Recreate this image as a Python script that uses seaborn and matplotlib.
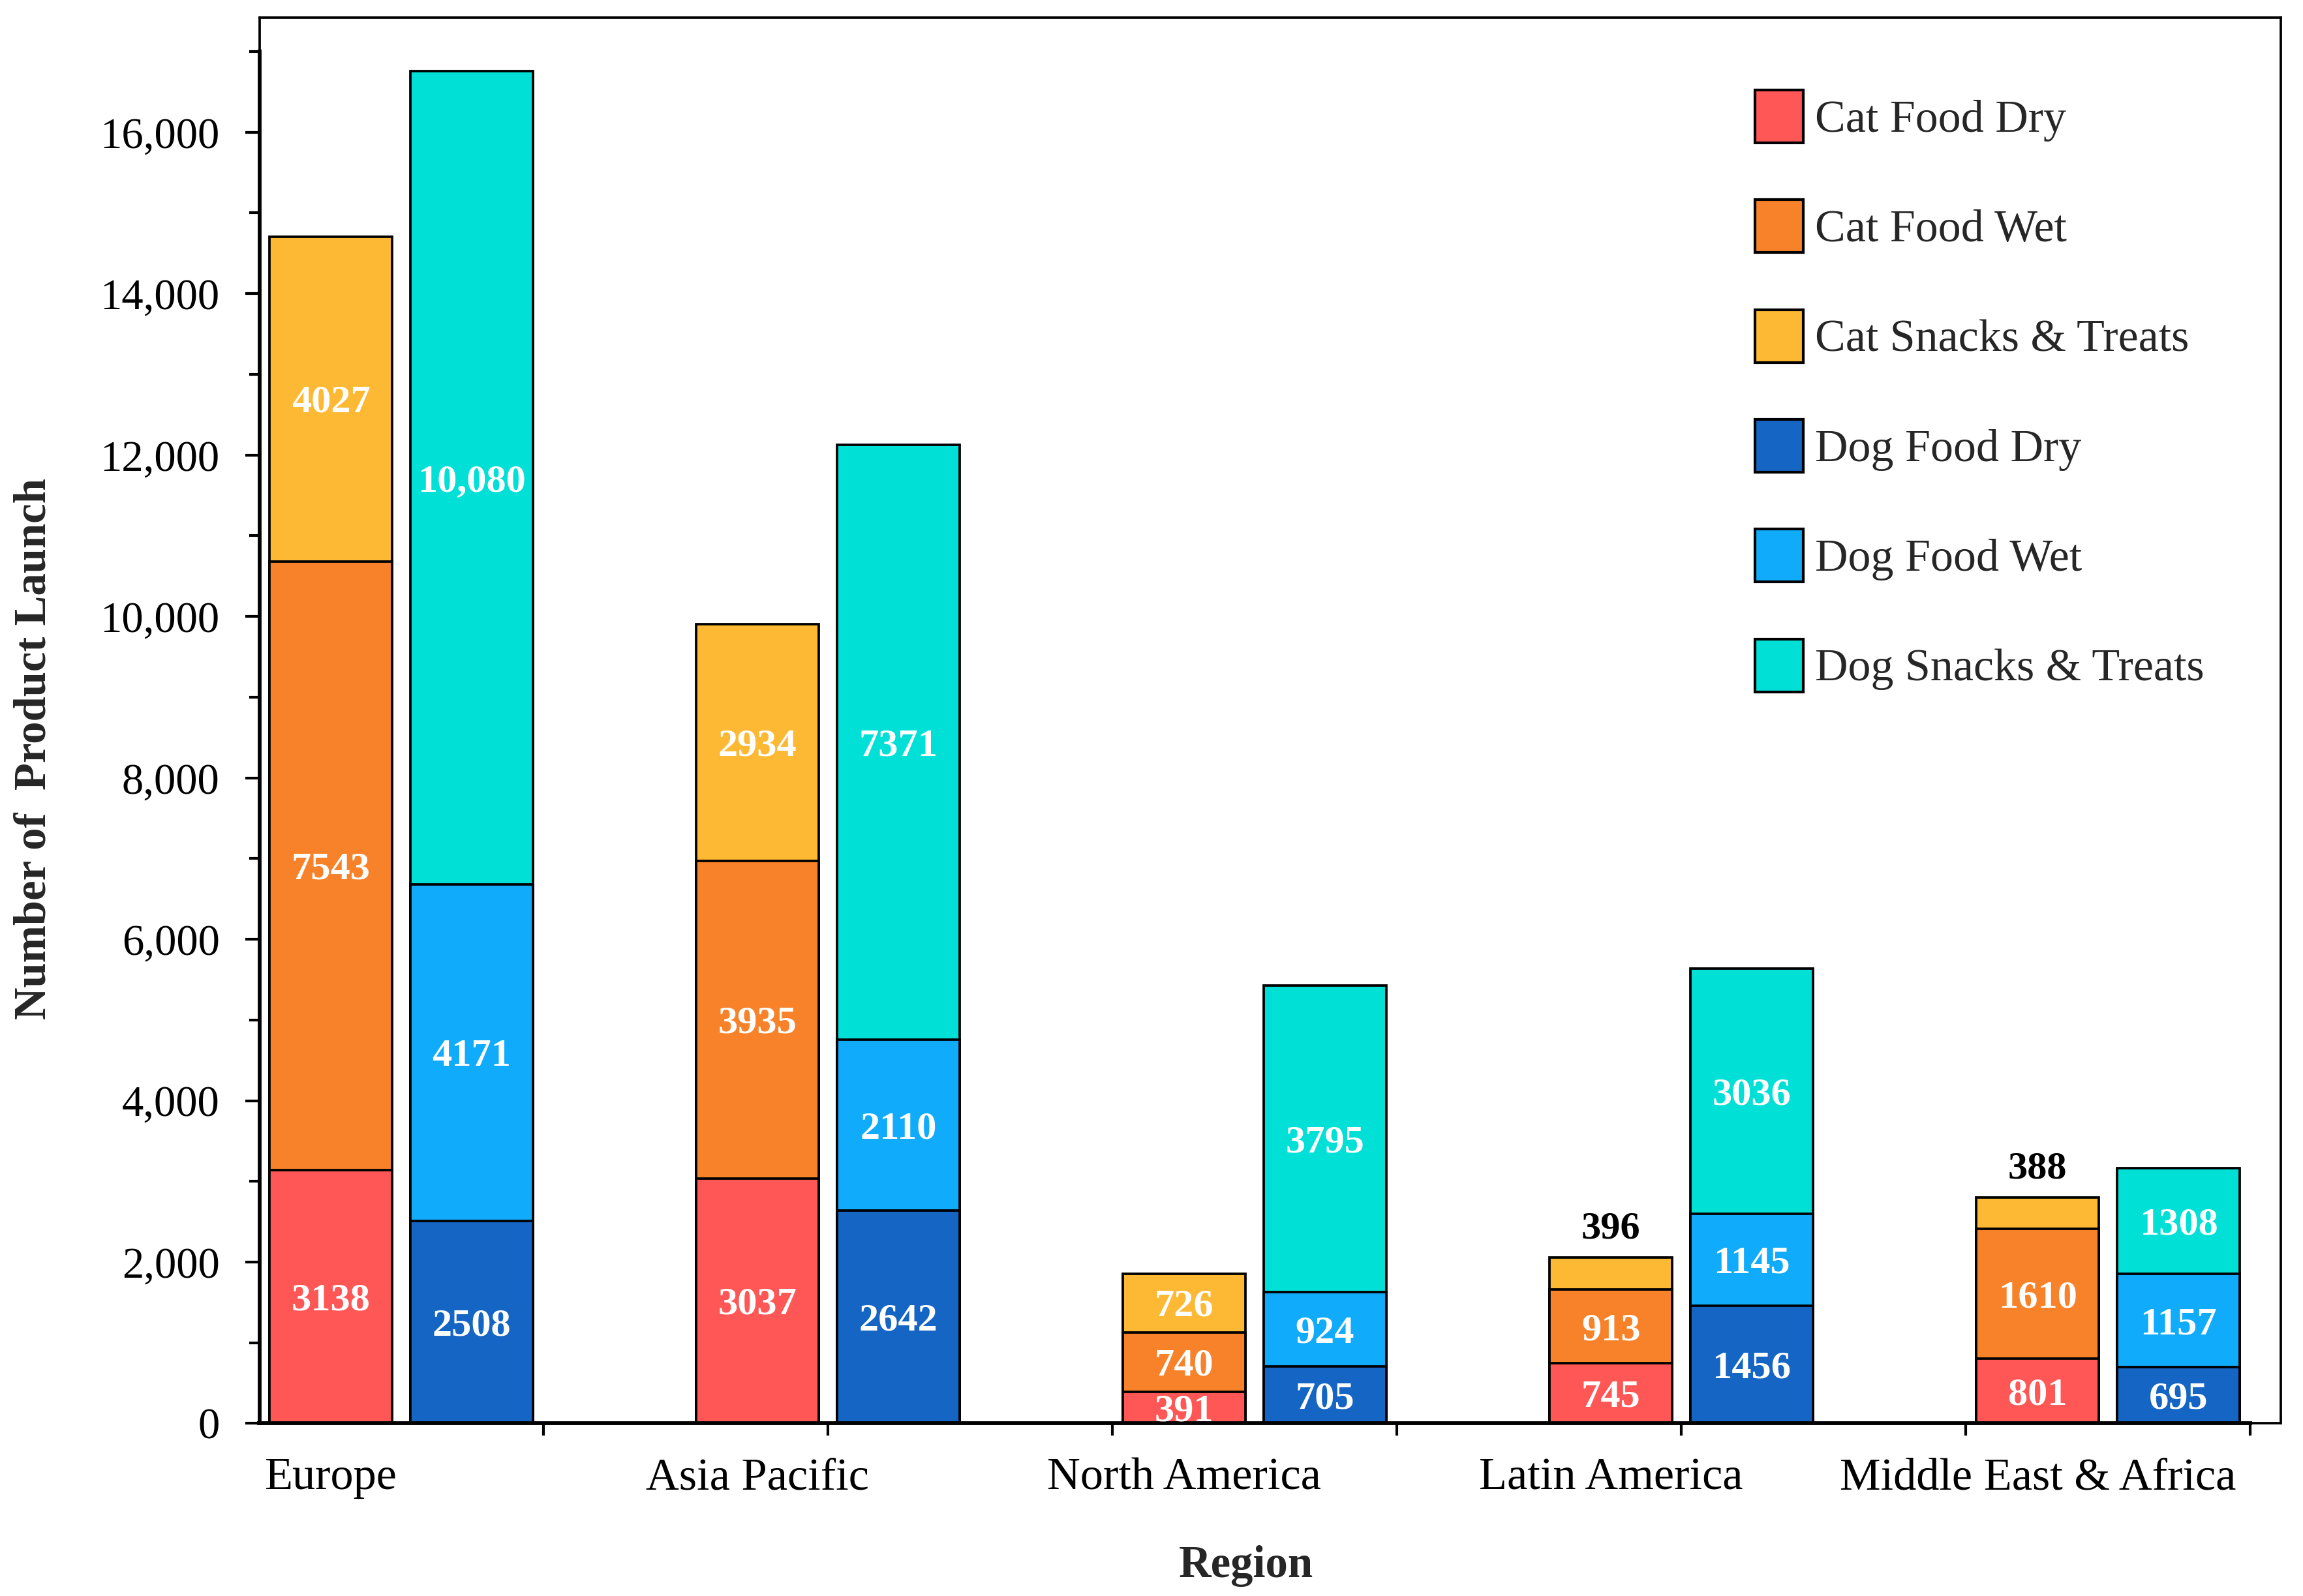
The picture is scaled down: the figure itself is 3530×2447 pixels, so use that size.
import matplotlib
matplotlib.use("Agg")
import matplotlib.pyplot as plt
from matplotlib.patches import Patch
from matplotlib.ticker import FixedLocator, MultipleLocator, StrMethodFormatter
import pandas as pd
import seaborn as sns

regions = ["Europe", "Asia Pacific", "North America", "Latin America", "Middle East & Africa"]

cat_dry = [3138, 3037, 391, 745, 801]
cat_wet = [7543, 3935, 740, 913, 1610]
cat_snacks = [4027, 2934, 726, 396, 388]
dog_dry = [2508, 2642, 705, 1456, 695]
dog_wet = [4171, 2110, 924, 1145, 1157]
dog_snacks = [10080, 7371, 3795, 3036, 1308]

series_names = ["Cat Food Dry", "Cat Food Wet", "Cat Snacks & Treats",
                "Dog Food Dry", "Dog Food Wet", "Dog Snacks & Treats"]
colors = {
    "Cat Food Dry": "#FF5656",
    "Cat Food Wet": "#F8822A",
    "Cat Snacks & Treats": "#FDB933",
    "Dog Food Dry": "#1565C4",
    "Dog Food Wet": "#10ABFA",
    "Dog Snacks & Treats": "#00E0D6",
}

sns.set_theme(style="ticks")
plt.rcParams["font.family"] = ["Liberation Serif", "DejaVu Serif"]

# long table, one row per region/animal, plus running tops for stacking
rows = []
for animal, dry, wet, snacks in [("Cat", cat_dry, cat_wet, cat_snacks),
                                 ("Dog", dog_dry, dog_wet, dog_snacks)]:
    for r, d, w, s in zip(regions, dry, wet, snacks):
        rows.append({"Region": r, "Animal": animal, "Dry": d, "Wet": w, "Snacks": s})
df = pd.DataFrame(rows)
df["Dry_top"] = df["Dry"]
df["Wet_top"] = df["Dry"] + df["Wet"]
df["Snacks_top"] = df["Wet_top"] + df["Snacks"]

fig = plt.figure(figsize=(3530 / 300, 2447 / 300), dpi=300)
ax = fig.add_axes([0.1127, 0.1081, 0.8777, 0.8809])

layers = [("Snacks", "Snacks & Treats"), ("Wet", "Food Wet"), ("Dry", "Food Dry")]
for layer, suffix in layers:
    pal = {"Cat": colors["Cat " + suffix], "Dog": colors["Dog " + suffix]}
    sns.barplot(data=df, x="Region", y=layer + "_top", hue="Animal",
                order=regions, hue_order=["Cat", "Dog"], palette=pal,
                saturation=1, width=0.66, gap=0.13, edgecolor="black",
                linewidth=0.9, errorbar=None, legend=False, ax=ax)
    for animal, cont in zip(["Cat", "Dog"], ax.containers[-2:]):
        sub = df[df["Animal"] == animal].set_index("Region").loc[regions]
        for bar, (_, row) in zip(cont, sub.iterrows()):
            val = row[layer]
            top = row[layer + "_top"]
            xc = bar.get_x() + bar.get_width() / 2
            txt = f"{val:,}" if val >= 10000 else str(val)
            if layer == "Snacks" and val < 500:
                ax.annotate(txt, (xc, top), xytext=(0, 4), textcoords="offset points",
                            ha="center", va="bottom", color="black",
                            fontsize=14.5, fontweight="bold")
            else:
                ax.annotate(txt, (xc, top - val / 2), xytext=(0, -1.5),
                            textcoords="offset points", ha="center", va="center",
                            color="white", fontsize=14.5, fontweight="bold")

cat_bars = ax.containers[-2]
xl, xr = -0.332, 4.405
ytop = 17420
ax.set_xlim(xl, xr)
ax.set_ylim(0, ytop)

ax.set_xticks([b.get_x() + b.get_width() / 2 for b in cat_bars])
ax.set_xticklabels(regions)
ax.xaxis.set_minor_locator(FixedLocator([-1 / 3 + 2 * k / 3 for k in range(8)]))
ax.tick_params(axis="x", which="major", length=0, pad=12.5, labelsize=16.9, colors="black")
ax.tick_params(axis="x", which="minor", length=4.5, width=1.0, direction="out", color="black")

ax.yaxis.set_major_locator(MultipleLocator(2000))
ax.yaxis.set_minor_locator(MultipleLocator(1000))
ax.yaxis.set_major_formatter(StrMethodFormatter("{x:,.0f}"))
ax.tick_params(axis="y", which="major", length=5.2, width=1.0, pad=9.5, labelsize=16, colors="black")
ax.tick_params(axis="y", which="minor", length=3.9, width=1.0, color="black")

for side in ["left", "bottom"]:
    ax.spines[side].set_linewidth(1.4)
    ax.spines[side].set_color("black")
for side in ["top", "right"]:
    ax.spines[side].set_linewidth(0.9)
    ax.spines[side].set_color("black")
ax.spines["left"].set_bounds(0, 17000)
ax.spines["bottom"].set_bounds(-1 / 3, 13 / 3)
ax.axvline(xl, ymin=17000 / ytop, ymax=1, color="black", lw=0.9, clip_on=False)
ax.axhline(0, xmin=(13 / 3 - xl) / (xr - xl), xmax=1, color="black", lw=0.9, clip_on=False)

ax.set_xlabel("Region", fontsize=16.5, fontweight="bold")
ax.set_ylabel("Number of  Product Launch", fontsize=16.5, fontweight="bold")
ax.xaxis.set_label_coords(0.488, -0.0865)
ax.yaxis.set_label_coords(-0.101, 0.48)

handles = [Patch(facecolor=colors[n], edgecolor="black", linewidth=1.0, label=n)
           for n in series_names]
fig.legend(handles=handles, loc="upper left", bbox_to_anchor=(2690 / 3530, 1 - 138 / 2447),
           frameon=False, fontsize=16.8, handlelength=1.06, handleheight=1.4,
           labelspacing=1.25, handletextpad=0.25, borderpad=0, borderaxespad=0)

fig.savefig("out.png", dpi=300)
